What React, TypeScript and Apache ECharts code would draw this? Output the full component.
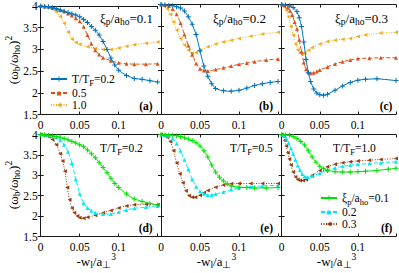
import React, { useEffect, useRef } from "react";
import * as echarts from "echarts";

// ---------- data ----------
const xTickLabels = ["0", "0.05", "0.1", ""];
const topNames = ["T/TF=0.2", "0.5", "1.0"];
const bottomNames = ["ξp/aho=0.1", "0.2", "0.3"];
const topAnnot = ["0.1", "0.2", "0.3"];
const bottomAnnot = ["0.2", "0.5", "1.0"];
const panelLetters = ["(a)", "(b)", "(c)", "(d)", "(e)", "(f)"];

// panel (a) xi=0.1
const aT02 = [[0,4],[0.005,3.99],[0.01,3.98],[0.015,3.96],[0.02,3.94],[0.025,3.91],[0.03,3.88],[0.035,3.85],[0.04,3.82],[0.045,3.79],[0.05,3.75],[0.055,3.69],[0.06,3.62],[0.065,3.53],[0.07,3.44],[0.075,3.33],[0.08,3.18],[0.085,3.0],[0.09,2.8],[0.095,2.64],[0.1,2.52],[0.11,2.4],[0.12,2.33],[0.13,2.31],[0.14,2.28],[0.15,2.25]];
const aT05 = [[0,4],[0.005,3.99],[0.01,3.98],[0.015,3.96],[0.02,3.94],[0.025,3.91],[0.03,3.88],[0.035,3.83],[0.04,3.78],[0.045,3.72],[0.05,3.65],[0.055,3.52],[0.06,3.33],[0.065,3.13],[0.07,2.98],[0.075,2.88],[0.08,2.81],[0.09,2.74],[0.1,2.69],[0.11,2.67],[0.12,2.66],[0.135,2.66],[0.15,2.67]];
const aT10 = [[0,4],[0.005,3.99],[0.01,3.97],[0.015,3.93],[0.02,3.87],[0.025,3.76],[0.03,3.6],[0.035,3.4],[0.04,3.24],[0.045,3.16],[0.05,3.12],[0.06,3.06],[0.07,3.02],[0.08,3.0],[0.09,3.0],[0.1,3.03],[0.11,3.07],[0.12,3.11],[0.135,3.14],[0.15,3.17]];
// panel (b) xi=0.2
const bT02 = [[0,4],[0.005,3.99],[0.01,3.98],[0.015,3.97],[0.02,3.95],[0.025,3.92],[0.03,3.85],[0.035,3.72],[0.04,3.55],[0.045,3.32],[0.05,2.95],[0.055,2.6],[0.06,2.37],[0.065,2.2],[0.07,2.09],[0.08,2.04],[0.09,2.03],[0.1,2.05],[0.11,2.1],[0.12,2.16],[0.13,2.2],[0.14,2.23],[0.15,2.25]];
const bT05 = [[0,4],[0.005,3.99],[0.01,3.97],[0.015,3.9],[0.02,3.78],[0.025,3.58],[0.03,3.32],[0.035,3.07],[0.04,2.86],[0.045,2.66],[0.05,2.54],[0.055,2.5],[0.06,2.49],[0.07,2.52],[0.08,2.56],[0.09,2.6],[0.1,2.64],[0.11,2.67],[0.12,2.7],[0.135,2.74],[0.15,2.76]];
const bT10 = [[0,4],[0.004,3.97],[0.008,3.9],[0.012,3.78],[0.016,3.6],[0.02,3.42],[0.025,3.23],[0.03,3.08],[0.035,2.96],[0.04,2.89],[0.045,2.91],[0.05,2.96],[0.06,3.04],[0.07,3.1],[0.08,3.15],[0.09,3.19],[0.1,3.23],[0.115,3.28],[0.13,3.33],[0.15,3.37]];
// panel (c) xi=0.3
const cT02 = [[0,4],[0.005,3.99],[0.01,3.97],[0.015,3.93],[0.02,3.84],[0.023,3.7],[0.026,3.5],[0.029,3.15],[0.032,2.75],[0.035,2.45],[0.038,2.25],[0.042,2.08],[0.046,1.99],[0.05,1.95],[0.055,1.94],[0.06,1.96],[0.07,2.05],[0.08,2.15],[0.09,2.23],[0.1,2.28],[0.11,2.3],[0.125,2.31],[0.15,2.27]];
const cT05 = [[0,4],[0.004,3.98],[0.008,3.93],[0.011,3.86],[0.014,3.76],[0.017,3.6],[0.02,3.45],[0.023,3.2],[0.026,2.93],[0.029,2.68],[0.032,2.53],[0.035,2.46],[0.038,2.44],[0.042,2.45],[0.046,2.48],[0.05,2.51],[0.06,2.58],[0.07,2.65],[0.08,2.7],[0.09,2.74],[0.1,2.77],[0.115,2.78],[0.13,2.79],[0.15,2.79]];
const cT10 = [[0,4],[0.003,3.96],[0.006,3.87],[0.009,3.72],[0.012,3.5],[0.015,3.3],[0.018,3.1],[0.021,2.97],[0.024,2.9],[0.027,2.88],[0.03,2.9],[0.035,2.96],[0.04,3.02],[0.05,3.1],[0.06,3.16],[0.07,3.19],[0.08,3.21],[0.09,3.23],[0.1,3.27],[0.11,3.31],[0.13,3.35],[0.15,3.37]];
// panel (d) T=0.2
const dX01 = [[0,4],[0.005,3.99],[0.01,3.98],[0.015,3.97],[0.02,3.95],[0.025,3.93],[0.03,3.9],[0.035,3.87],[0.04,3.83],[0.045,3.79],[0.05,3.75],[0.055,3.7],[0.06,3.62],[0.065,3.53],[0.07,3.43],[0.075,3.31],[0.08,3.19],[0.085,3.06],[0.09,2.93],[0.095,2.8],[0.1,2.7],[0.11,2.54],[0.12,2.42],[0.13,2.36],[0.14,2.31],[0.15,2.27]];
const dX02 = [[0,4],[0.005,3.99],[0.01,3.98],[0.015,3.96],[0.02,3.93],[0.025,3.86],[0.03,3.75],[0.035,3.58],[0.04,3.3],[0.045,2.9],[0.05,2.55],[0.055,2.32],[0.06,2.2],[0.065,2.13],[0.07,2.08],[0.08,2.05],[0.09,2.05],[0.1,2.1],[0.11,2.15],[0.12,2.19],[0.135,2.22],[0.15,2.25]];
const dX03 = [[0,4],[0.005,3.98],[0.01,3.95],[0.015,3.88],[0.02,3.75],[0.025,3.53],[0.028,3.35],[0.031,3.1],[0.034,2.7],[0.037,2.4],[0.04,2.2],[0.043,2.08],[0.047,2.0],[0.05,1.96],[0.055,1.95],[0.06,1.97],[0.07,2.02],[0.08,2.08],[0.09,2.14],[0.1,2.2],[0.11,2.25],[0.12,2.28],[0.135,2.29],[0.15,2.28]];
// panel (e) T=0.5
const eX01 = [[0,4],[0.005,3.99],[0.01,3.99],[0.015,3.98],[0.02,3.97],[0.025,3.95],[0.03,3.92],[0.035,3.89],[0.04,3.85],[0.045,3.8],[0.05,3.72],[0.055,3.6],[0.06,3.45],[0.065,3.25],[0.07,3.08],[0.075,2.95],[0.08,2.86],[0.085,2.79],[0.09,2.74],[0.1,2.71],[0.11,2.7],[0.12,2.69],[0.135,2.69],[0.15,2.7]];
const eX02 = [[0,4],[0.005,3.99],[0.01,3.97],[0.015,3.9],[0.02,3.78],[0.025,3.6],[0.03,3.38],[0.035,3.15],[0.04,2.9],[0.045,2.72],[0.05,2.61],[0.055,2.55],[0.06,2.52],[0.065,2.52],[0.07,2.54],[0.08,2.59],[0.09,2.65],[0.1,2.69],[0.115,2.72],[0.13,2.74],[0.15,2.75]];
const eX03 = [[0,4],[0.004,3.98],[0.008,3.93],[0.012,3.83],[0.016,3.6],[0.02,3.3],[0.024,3.04],[0.028,2.82],[0.032,2.62],[0.036,2.5],[0.04,2.46],[0.044,2.46],[0.05,2.51],[0.055,2.57],[0.06,2.63],[0.07,2.71],[0.08,2.76],[0.09,2.79],[0.1,2.8],[0.115,2.8],[0.13,2.8],[0.15,2.8]];
// panel (f) T=1.0
const fX01 = [[0,4],[0.005,3.99],[0.01,3.98],[0.015,3.95],[0.02,3.9],[0.025,3.83],[0.03,3.74],[0.035,3.6],[0.04,3.45],[0.045,3.32],[0.05,3.22],[0.055,3.16],[0.06,3.12],[0.07,3.09],[0.08,3.08],[0.09,3.08],[0.1,3.09],[0.11,3.1],[0.125,3.12],[0.14,3.15],[0.15,3.17]];
const fX02 = [[0,4],[0.003,3.97],[0.006,3.9],[0.009,3.8],[0.012,3.66],[0.015,3.52],[0.018,3.38],[0.021,3.24],[0.024,3.13],[0.027,3.03],[0.03,2.97],[0.034,2.96],[0.04,2.98],[0.05,3.05],[0.06,3.13],[0.07,3.18],[0.08,3.22],[0.09,3.25],[0.1,3.27],[0.115,3.29],[0.13,3.31],[0.15,3.33]];
const fX03 = [[0,4],[0.002,3.96],[0.004,3.86],[0.006,3.72],[0.008,3.55],[0.01,3.4],[0.012,3.25],[0.015,3.08],[0.018,2.96],[0.021,2.9],[0.024,2.87],[0.028,2.87],[0.032,2.9],[0.04,3.0],[0.05,3.12],[0.06,3.21],[0.07,3.27],[0.08,3.31],[0.09,3.33],[0.1,3.35],[0.115,3.37],[0.13,3.39],[0.15,3.41]];

const panelData = [
  [aT02, aT05, aT10],
  [bT02, bT05, bT10],
  [cT02, cT05, cT10],
  [dX01, dX02, dX03],
  [eX01, eX02, eX03],
  [fX01, fX02, fX03],
];

// ---------- styles ----------
const FONT = "Liberation Serif";
const PLUS = "path://M4,0H6V4H10V6H6V10H4V6H0V4H4Z";
const LTRI = "path://M0,5L10,0L10,10Z";
const topColors = ["#0072BD", "#D95319", "#EDB120"];
const bottomColors = ["#00e000", "#00e8f0", "#9c3a0e"];
const symbols = [PLUS, "triangle", LTRI];
const symbolSizes = [5, 4, 4];
const lineTypes: any[] = ["solid", [4, 2], [1, 1.5]];

const lefts = [40.7, 161, 281.7];
const widths = [117, 117, 115.7];
const tops = [4.5, 134.5];
const heights = [110, 102];

const rich = {
  n: { fontFamily: FONT, fontSize: 11.5, color: "#000", lineHeight: 16, verticalAlign: "middle" },
  s: { fontFamily: FONT, fontSize: 8.5, color: "#000", lineHeight: 16, verticalAlign: "bottom" },
  p: { fontFamily: FONT, fontSize: 8.5, color: "#000", lineHeight: 16, verticalAlign: "top" },
};
const richBig = {
  n: { fontFamily: FONT, fontSize: 13, color: "#000", lineHeight: 18, verticalAlign: "middle" },
  s: { fontFamily: FONT, fontSize: 9.5, color: "#000", lineHeight: 18, verticalAlign: "bottom" },
  p: { fontFamily: FONT, fontSize: 9.5, color: "#000", lineHeight: 18, verticalAlign: "top" },
};

const legendText: Record<string, string> = {
  "T/TF=0.2": "{n|T/T}{s|F}{n|=0.2}",
  "0.5": "{n|0.5}",
  "1.0": "{n|1.0}",
  "ξp/aho=0.1": "{n|ξ}{s|p}{n|/a}{s|ho}{n|=0.1}",
  "0.2": "{n|0.2}",
  "0.3": "{n|0.3}",
};

export default function App() {
  const ref = useRef<HTMLDivElement>(null);
  useEffect(() => {
    if (!ref.current) return;
    const chart = echarts.init(ref.current, null, { renderer: "svg" });
    const grid: any[] = [];
    const xAxis: any[] = [];
    const yAxis: any[] = [];
    const series: any[] = [];
    const graphic: any[] = [];
    const axisLine = { show: true, lineStyle: { color: "#1a1a1a", width: 1 } };
    const axisTick = { show: true, inside: true, length: 3, lineStyle: { color: "#1a1a1a" } };
    for (let p = 0; p < 6; p++) {
      const row = p < 3 ? 0 : 1;
      const col = p % 3;
      grid.push({ left: lefts[col], top: tops[row], width: widths[col], height: heights[row] });
      xAxis.push({
        gridIndex: p, type: "value", min: 0, max: 0.15, interval: 0.05, position: "bottom",
        axisLine, axisTick, splitLine: { show: false },
        axisLabel: {
          show: true, margin: 4, fontFamily: FONT, fontSize: 11.5, color: "#000",
          showMinLabel: true, showMaxLabel: true,
          formatter: (v: number) => xTickLabels[Math.round(v / 0.05)] ?? "",
        },
      });
      xAxis.push({
        gridIndex: p, type: "value", min: 0, max: 0.15, interval: 0.05, position: "top",
        axisLine, axisTick, splitLine: { show: false }, axisLabel: { show: false },
      });
      yAxis.push({
        gridIndex: p, type: "value", min: 1.5, max: 4, interval: 0.5, position: "left",
        axisLine, axisTick, splitLine: { show: false },
        axisLabel: {
          show: col === 0, margin: 3, fontFamily: FONT, fontSize: 11.5, color: "#000",
          showMinLabel: true, showMaxLabel: true,
        },
      });
      yAxis.push({
        gridIndex: p, type: "value", min: 1.5, max: 4, interval: 0.5, position: "right",
        axisLine, axisTick, splitLine: { show: false }, axisLabel: { show: false },
      });
      const names = row === 0 ? topNames : bottomNames;
      const colors = row === 0 ? topColors : bottomColors;
      for (let k = 0; k < 3; k++) {
        series.push({
          type: "line", name: names[k], xAxisIndex: p * 2, yAxisIndex: p * 2,
          data: panelData[p][k], symbol: symbols[k], symbolSize: symbolSizes[k],
          showSymbol: true, smooth: 0.2,
          lineStyle: { color: colors[k], width: 1, type: lineTypes[k] },
          itemStyle: { color: colors[k] },
          z: 3 - k,
        });
      }
      graphic.push({
        type: "text", x: lefts[col] + widths[col] - 5, y: tops[row] + heights[row] - 9,
        style: { text: panelLetters[p], fontFamily: FONT, fontSize: 11.5, fontWeight: "bold", fill: "#000", align: "right", verticalAlign: "middle" },
      });
    }
    const topAnnX = [100, 213, 335];
    topAnnX.forEach((x, i) => {
      graphic.push({
        type: "text", x, y: 18,
        style: { text: `{n|ξ}{s|p}{n|/a}{s|ho}{n|=${topAnnot[i]}}`, rich: richBig, align: "left", verticalAlign: "middle" },
      });
    });
    const botAnnX = [100, 230, 333];
    botAnnX.forEach((x, i) => {
      graphic.push({
        type: "text", x, y: 148,
        style: { text: `{n|T/T}{s|F}{n|=${bottomAnnot[i]}}`, rich: rich, align: "left", verticalAlign: "middle" },
      });
    });
    [60, 185].forEach((y) => {
      graphic.push({
        type: "text", x: 13, y, rotation: Math.PI / 2,
        style: { text: "{n|(ω}{s|b}{n|/ω}{s|ho}{n|)}{p|2}", rich: richBig, align: "center", verticalAlign: "middle" },
      });
    });
    [0, 1, 2].forEach((c) => {
      graphic.push({
        type: "text", x: lefts[c] + widths[c] / 2 - 3, y: 261,
        style: { text: "{n|-w}{s|l}{n|/a}{s|⊥}{p|3}", rich: richBig, align: "center", verticalAlign: "middle" },
      });
    });

    const legendCommon = {
      orient: "vertical", itemWidth: 16, itemHeight: 6, itemGap: 0, padding: 0,
      selectedMode: false,
      textStyle: { fontFamily: FONT, fontSize: 11.5, color: "#000", rich },
      formatter: (name: string) => legendText[name] ?? name,
    };
    chart.setOption({
      animation: false,
      backgroundColor: "#fff",
      textStyle: { fontFamily: FONT },
      grid, xAxis, yAxis, series, graphic,
      legend: [
        { ...legendCommon, left: 50, top: 73, data: topNames },
        { ...legendCommon, left: 320, top: 192, data: bottomNames },
      ],
    });
    return () => chart.dispose();
  }, []);
  return (
    <div
      ref={ref}
      style={{ position: "fixed", left: 0, top: 0, width: 399, height: 273, background: "#fff" }}
    />
  );
}
